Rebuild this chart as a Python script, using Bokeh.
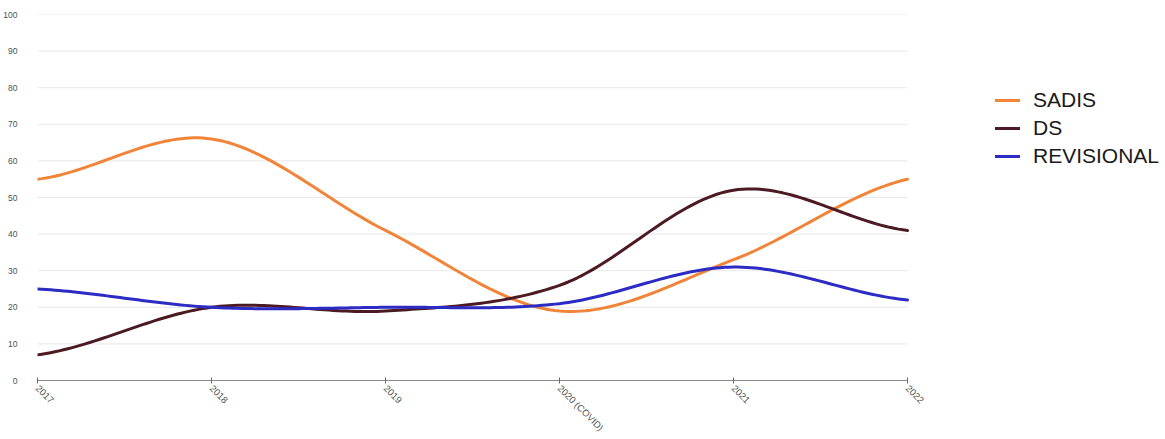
import math
import numpy as np
from bokeh.plotting import figure
from bokeh.models import Legend, LegendItem, FixedTicker, Range1d
from bokeh.embed import file_html
from bokeh.resources import INLINE

years = ["2017", "2018", "2019", "2020 (COVID)", "2021", "2022"]
sadis = [55, 66, 41, 19, 33, 55]
ds = [7, 20, 19, 26, 52, 41]
revisional = [25, 20, 20, 21, 31, 22]
y_ticks = list(range(0, 101, 10))

series_names = ["SADIS", "DS", "REVISIONAL"]
series_colors = ["#F0853A", "#4B1A22", "#2C2CC4"]


def smooth(xs, ys, n=40):
    """Catmull-Rom spline through the data points."""
    xs = np.asarray(xs, float)
    ys = np.asarray(ys, float)
    px = np.concatenate([[2 * xs[0] - xs[1]], xs, [2 * xs[-1] - xs[-2]]])
    py = np.concatenate([[ys[0]], ys, [ys[-1]]])
    ox, oy = [], []
    for i in range(1, len(px) - 2):
        t = np.linspace(0, 1, n, endpoint=(i == len(px) - 3))
        for arr, out in ((px, ox), (py, oy)):
            p0, p1, p2, p3 = arr[i - 1], arr[i], arr[i + 1], arr[i + 2]
            out.extend(0.5 * ((2 * p1) + (-p0 + p2) * t
                              + (2 * p0 - 5 * p1 + 4 * p2 - p3) * t ** 2
                              + (-p0 + 3 * p1 - 3 * p2 + p3) * t ** 3))
    return ox, oy


W, H = 1165, 439
LEFT = 37
frame_w = W - LEFT
data_w = 870  # pixels spanned by the category axis
n_last = len(years) - 1
x_end = n_last * frame_w / data_w

p = figure(width=W, height=H, output_backend="svg", toolbar_location=None,
           x_range=Range1d(0, x_end), y_range=Range1d(0, 100),
           min_border_left=LEFT, min_border_right=0, min_border_top=14,
           min_border_bottom=59)
p.outline_line_color = None
p.border_fill_color = "white"
p.background_fill_color = "white"

xi = list(range(len(years)))

# horizontal grid lines limited to the data span
p.segment(x0=[0] * len(y_ticks), x1=[n_last] * len(y_ticks), y0=y_ticks, y1=y_ticks,
          line_color="#e8e8e8", line_width=1)

renderers = []
for name, vals, col in zip(series_names, [sadis, ds, revisional], series_colors):
    sx, sy = smooth(xi, vals)
    r = p.line(sx, sy, line_color=col, line_width=3, line_cap="round", line_join="round")
    renderers.append(r)

# axes
p.xaxis.ticker = FixedTicker(ticks=xi)
p.xaxis.bounds = (0, n_last)
p.xaxis.major_label_overrides = {i: y for i, y in enumerate(years)}
p.xaxis.major_label_orientation = -math.pi / 4
p.xaxis.axis_line_color = "#8a8a8a"
p.xaxis.major_tick_line_color = "#6a6a6a"
p.xaxis.major_tick_in = 3
p.xaxis.major_tick_out = 3
p.xaxis.minor_tick_line_color = None
p.xaxis.major_label_text_font = "Liberation Sans"
p.xaxis.major_label_text_font_size = "9.5px"
p.xaxis.major_label_text_color = "#505050"
p.xaxis.major_label_standoff = 3

p.yaxis.ticker = FixedTicker(ticks=y_ticks)
p.yaxis.axis_line_color = None
p.yaxis.major_tick_line_color = None
p.yaxis.minor_tick_line_color = None
p.yaxis.major_label_text_font = "Liberation Sans"
p.yaxis.major_label_text_font_size = "8.5px"
p.yaxis.major_label_text_color = "#505050"
p.yaxis.major_label_standoff = 14

p.xgrid.grid_line_color = None
p.ygrid.grid_line_color = None

legend = Legend(items=[LegendItem(label=n, renderers=[r]) for n, r in zip(series_names, renderers)],
                location=(958, 212), padding=0, spacing=4, margin=0,
                glyph_width=25, glyph_height=20, label_height=20, label_standoff=13,
                label_text_font="Liberation Sans", label_text_font_size="21px",
                label_text_color="#1a1a1a", border_line_color=None,
                background_fill_alpha=0)
p.add_layout(legend, "center")

open("out.html", "w").write(file_html(p, INLINE))
